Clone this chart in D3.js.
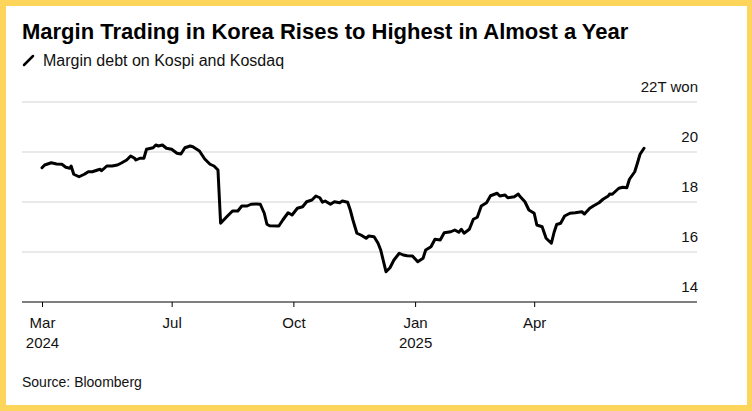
<!DOCTYPE html>
<html>
<head>
<meta charset="utf-8">
<script src="https://cdn.jsdelivr.net/npm/d3@7"></script>
<style>
  body { margin: 0; background: #fcd55a; }
  svg { display: block; }
</style>
</head>
<body>
<div id="chart"></div>
<script>
// Margin debt on Kospi and Kosdaq, trillion won
const dates = [
  '2024-03-25','2024-03-27','2024-04-01','2024-04-05','2024-04-09','2024-04-12','2024-04-15','2024-04-16',
  '2024-04-18','2024-04-22','2024-04-26','2024-04-29','2024-05-02','2024-05-06','2024-05-08','2024-05-09',
  '2024-05-13','2024-05-17','2024-05-21','2024-05-24','2024-05-28','2024-05-31','2024-06-03','2024-06-04',
  '2024-06-07','2024-06-10','2024-06-12','2024-06-17','2024-06-19','2024-06-21','2024-06-24','2024-06-27',
  '2024-07-01','2024-07-05','2024-07-08','2024-07-11','2024-07-15','2024-07-17','2024-07-22','2024-07-24',
  '2024-07-26','2024-07-30','2024-08-02','2024-08-05','2024-08-07','2024-08-12','2024-08-16','2024-08-20',
  '2024-08-23','2024-08-27','2024-08-30','2024-09-03','2024-09-06','2024-09-09','2024-09-11','2024-09-13',
  '2024-09-20','2024-09-23','2024-09-27','2024-09-30','2024-10-04','2024-10-08','2024-10-11','2024-10-15',
  '2024-10-18','2024-10-21','2024-10-23','2024-10-25','2024-10-29','2024-11-01','2024-11-05','2024-11-07',
  '2024-11-11','2024-11-13','2024-11-15','2024-11-18','2024-11-21','2024-11-25','2024-11-27','2024-12-01',
  '2024-12-04','2024-12-06','2024-12-10','2024-12-13','2024-12-16','2024-12-20','2024-12-23','2024-12-26',
  '2024-12-30','2025-01-03','2025-01-07','2025-01-09','2025-01-13','2025-01-16','2025-01-20','2025-01-23',
  '2025-01-28','2025-01-31','2025-02-03','2025-02-05','2025-02-07','2025-02-11','2025-02-14','2025-02-17',
  '2025-02-20','2025-02-24','2025-02-27','2025-03-04','2025-03-06','2025-03-10','2025-03-12','2025-03-17',
  '2025-03-20','2025-03-21','2025-03-25','2025-03-28','2025-04-01','2025-04-03','2025-04-07','2025-04-10',
  '2025-04-14','2025-04-16','2025-04-18','2025-04-21','2025-04-24','2025-04-28','2025-05-02','2025-05-07',
  '2025-05-09','2025-05-13','2025-05-16','2025-05-20','2025-05-23','2025-05-27','2025-05-28','2025-05-30',
  '2025-06-04','2025-06-07','2025-06-10','2025-06-12','2025-06-16','2025-06-18','2025-06-20','2025-06-23'
];
const debt = [
  19.37,19.48,19.57,19.52,19.51,19.39,19.35,19.44,
  19.11,19.01,19.11,19.21,19.21,19.28,19.31,19.25,
  19.44,19.44,19.48,19.56,19.68,19.84,19.75,19.68,
  19.75,19.75,20.11,20.17,20.28,20.24,20.28,20.15,
  20.11,19.95,19.92,20.17,20.24,20.21,20.04,19.88,
  19.72,19.51,19.44,19.28,17.15,17.43,17.64,17.64,
  17.84,17.84,17.91,17.92,17.91,17.55,17.11,17.05,
  17.04,17.28,17.57,17.48,17.75,17.81,18.01,18.08,
  18.24,18.17,17.99,18.04,17.91,18.01,17.97,18.04,
  17.99,17.68,17.28,16.75,16.68,16.55,16.64,16.61,
  16.35,16.08,15.21,15.37,15.68,15.95,15.88,15.85,
  15.84,15.61,15.75,16.08,16.21,16.51,16.48,16.77,
  16.81,16.88,16.79,16.91,16.75,16.91,17.31,17.39,
  17.84,17.97,18.25,18.35,18.24,18.28,18.17,18.21,
  18.32,18.24,18.01,17.68,17.55,17.08,17.01,16.55,
  16.35,16.78,17.10,17.15,17.44,17.55,17.57,17.61,
  17.52,17.75,17.85,17.97,18.11,18.24,18.32,18.31,
  18.55,18.59,18.57,18.91,19.21,19.55,19.91,20.15
];

const yTicks = [14, 16, 18, 20, 22];
const xTickDates = ['2024-03-25', '2024-07-01', '2024-10-01', '2025-01-01', '2025-04-01'];
const xTickLabels = [['Mar', '2024'], ['Jul'], ['Oct'], ['Jan', '2025'], ['Apr']];

const parseDate = d3.timeParse('%Y-%m-%d');
const data = dates.map(function(d, i) { return { date: parseDate(d), value: debt[i] }; });

const figure_width = 752;
const figure_height = 411;
const frame = { left: 6, top: 6, right: 5, bottom: 6 };

const plot = { left: 22, right: 697, top: 102, bottom: 302 };
const fontFamily = '"Liberation Sans", Arial, Helvetica, sans-serif';

const svg = d3.select('#chart')
  .append('svg')
    .attr('width', figure_width)
    .attr('height', figure_height);

// yellow frame with white card
svg.append('rect')
  .attr('width', figure_width).attr('height', figure_height)
  .attr('fill', '#fcd55a');
svg.append('rect')
  .attr('x', frame.left).attr('y', frame.top)
  .attr('width', figure_width - frame.left - frame.right)
  .attr('height', figure_height - frame.top - frame.bottom)
  .attr('fill', '#ffffff');

// x scale: data start at 42px, last point at 644px
const x = d3.scaleTime()
  .domain([parseDate('2024-03-25'), parseDate('2025-06-23')])
  .range([42, 644]);

const y = d3.scaleLinear()
  .domain([14, 22])
  .range([plot.bottom, plot.top]);

// gridlines (not at 14, that is the axis)
svg.append('g')
  .selectAll('line')
  .data(yTicks.filter(function(t) { return t > 14; }))
  .enter()
  .append('line')
    .attr('x1', plot.left).attr('x2', plot.right)
    .attr('y1', function(d) { return y(d); })
    .attr('y2', function(d) { return y(d); })
    .attr('stroke', '#e2e2e2')
    .attr('stroke-width', 1.5);

// y labels, right aligned, sitting above gridlines
svg.append('g')
  .selectAll('text')
  .data(yTicks)
  .enter()
  .append('text')
    .attr('x', plot.right + 1)
    .attr('y', function(d) { return y(d) - 10; })
    .attr('text-anchor', 'end')
    .attr('font-family', fontFamily)
    .attr('font-size', 15)
    .attr('fill', '#111')
    .text(function(d) { return d === 22 ? '22T won' : d; });

// x axis
const xAxis = svg.append('g')
  .attr('transform', 'translate(0,' + plot.bottom + ')')
  .call(d3.axisBottom(x)
    .tickValues(xTickDates.map(parseDate))
    .tickSize(5)
    .tickSizeOuter(0)
    .tickFormat(''));
xAxis.select('.domain').remove();
xAxis.selectAll('.tick line').attr('stroke', '#000');
xAxis.append('line')
  .attr('x1', plot.left).attr('x2', plot.right)
  .attr('stroke', '#000').attr('stroke-width', 1);

xAxis.selectAll('.tick')
  .append('text')
    .attr('fill', '#111')
    .attr('font-family', fontFamily)
    .attr('font-size', 15)
    .attr('text-anchor', 'middle')
    .selectAll('tspan')
    .data(function(d, i) { return xTickLabels[i]; })
    .enter()
    .append('tspan')
      .attr('x', 0)
      .attr('y', function(d, i) { return 26 + i * 19.5; })
      .text(function(d) { return d; });

// the line
const line = d3.line()
  .x(function(d) { return x(d.date); })
  .y(function(d) { return y(d.value); });

svg.append('path')
  .datum(data)
  .attr('d', line)
  .attr('fill', 'none')
  .attr('stroke', '#000')
  .attr('stroke-width', 3)
  .attr('stroke-linejoin', 'round')
  .attr('stroke-linecap', 'round');

// title and subtitle
svg.append('text')
  .attr('x', 22).attr('y', 39)
  .attr('font-family', fontFamily)
  .attr('font-weight', 'bold')
  .attr('font-size', 22)
  .attr('fill', '#000')
  .text('Margin Trading in Korea Rises to Highest in Almost a Year');

svg.append('line')
  .attr('x1', 24).attr('y1', 65)
  .attr('x2', 33).attr('y2', 56)
  .attr('stroke', '#000')
  .attr('stroke-width', 2.5)
  .attr('stroke-linecap', 'round');

svg.append('text')
  .attr('x', 43).attr('y', 66)
  .attr('font-family', fontFamily)
  .attr('font-size', 16)
  .attr('fill', '#111')
  .text('Margin debt on Kospi and Kosdaq');

// source
svg.append('text')
  .attr('x', 22).attr('y', 387)
  .attr('font-family', fontFamily)
  .attr('font-size', 14)
  .attr('fill', '#111')
  .text('Source: Bloomberg');
</script>
</body>
</html>
